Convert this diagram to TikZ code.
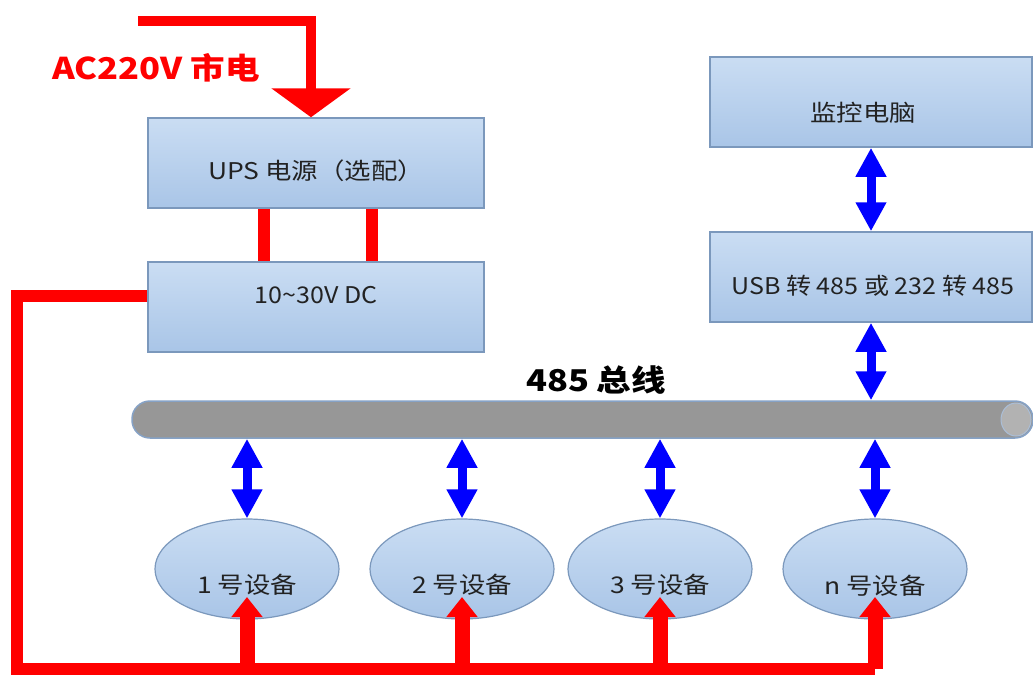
\documentclass[tikz,border=0pt]{standalone}
\usepackage{fontspec}
\usepackage{graphicx}
\setmainfont{Noto Sans CJK SC}
\usetikzlibrary{arrows.meta,shapes.geometric}
\definecolor{boxtop}{HTML}{CADDF3}
\definecolor{boxbot}{HTML}{A9C5E7}
\definecolor{boxedge}{HTML}{7B98BC}
\definecolor{busgray}{HTML}{979797}
\definecolor{busedge}{HTML}{86A2C6}
\definecolor{capgray}{HTML}{B2B2B2}
\definecolor{pwr}{HTML}{FF0000}
\definecolor{sig}{HTML}{0000FF}
\definecolor{txt}{HTML}{222222}
\newcommand{\wt}[1]{\scalebox{1.15}[1]{#1}}
\newcommand{\wn}[1]{\scalebox{1.09}[1]{#1}}
\begin{document}
\begin{tikzpicture}[x=1pt,y=-1pt,
  box/.style={draw=boxedge,line width=1.5pt,top color=boxtop,bottom color=boxbot,minimum height=90pt,inner sep=0pt},
  dev/.style={ellipse,draw=boxedge,line width=1.2pt,top color=boxtop,bottom color=boxbot,minimum width=184pt,minimum height=100pt,inner sep=0pt},
  lbl/.style={font=\fontsize{23}{27}\selectfont,text=txt,inner sep=0pt},
  big/.style={font=\fontsize{30}{36}\selectfont\bfseries,inner sep=0pt},
  pline/.style={draw=pwr,line width=12pt,line join=miter},
  parrow/.style={draw=pwr,line width=15pt,-{Triangle[width=30pt,length=20pt]}},
  acarrow/.style={draw=pwr,line width=10pt,line join=miter,-{Triangle[width=78pt,length=29pt]}},
  sarrow/.style={draw=sig,line width=9pt,{Triangle[width=29pt,length=29pt]}-{Triangle[width=29pt,length=29pt]}},
]
\useasboundingbox (0,0) rectangle (1033,675);
\fill[white] (0,0) rectangle (1033,675);

% boxes
\node[box,minimum width=336pt] (ups) at (316,163) {};
\node[box,minimum width=336pt] (dc) at (316,307) {};
\node[box,minimum width=322pt] (pc) at (871,102) {};
\node[box,minimum width=322pt] (usb) at (871,277) {};

\node[lbl] (upsl) at ([yshift=-8pt]ups.center) {\wt{UPS 电源（选配）}};
\node[lbl] (dcl) at ([yshift=12pt]dc.center) {\wn{10\textasciitilde 30V DC}};
\node[lbl] (pcl) at ([xshift=-8pt,yshift=-11pt]pc.center) {\wt{监控电脑}};
\node[lbl] (usbl) at ([xshift=2pt,yshift=-9pt]usb.center) {\wn{USB 转 485 或 232 转 485}};

% bus
\node[draw=busedge,line width=1.5pt,fill=busgray,rounded corners=18pt,minimum width=901pt,minimum height=37pt,inner sep=0pt] (bus) at (582.5,419.5) {};
\node[ellipse,draw=busedge!70,line width=1pt,fill=capgray,minimum width=30pt,minimum height=33pt,inner sep=0pt] (cap) at (1016,419.5) {};
\node[big,text=black] (busl) at (596,380) {\wt{485 总线}};

% devices
\node[dev] (d1) at (247,569) {};
\node[dev] (d2) at (462,569) {};
\node[dev] (d3) at (660,569) {};
\node[dev] (d4) at (875,569) {};
\node[lbl] at ([yshift=-16pt]d1.center) {\wt{1 号设备}};
\node[lbl] at ([yshift=-16pt]d2.center) {\wt{2 号设备}};
\node[lbl] at ([yshift=-16pt]d3.center) {\wt{3 号设备}};
\node[lbl] at ([yshift=-17pt]d4.center) {\wt{n 号设备}};

% AC input
\node[big,text=pwr] (ac) at (156,68) {\wt{AC220V 市电}};
\coordinate (acin) at (138,21);
\draw[acarrow] (acin) -| ([xshift=-5pt]ups.north);

% UPS to DC
\draw[pline] ([xshift=-52pt]ups.south) -- ([xshift=-52pt]dc.north);
\draw[pline] ([xshift=56pt]ups.south) -- ([xshift=56pt]dc.north);

% power distribution
\coordinate (bl) at (17,669);
\coordinate (br) at (875,669);
\draw[pline] ([yshift=11pt]dc.west) -| (bl) -- (br);
\foreach \d in {d1,d2,d3,d4}{
  \draw[parrow] (\d.center |- bl) -- ([yshift=-28pt]\d.center);
}

% signal arrows
\draw[sarrow] (pc.south) -- (usb.north);
\draw[sarrow] (usb.south) -- (usb.south |- bus.north);
\foreach \d in {d1,d2,d3,d4}{
  \draw[sarrow] (\d.north |- bus.south) -- (\d.north);
}
\end{tikzpicture}
\end{document}
